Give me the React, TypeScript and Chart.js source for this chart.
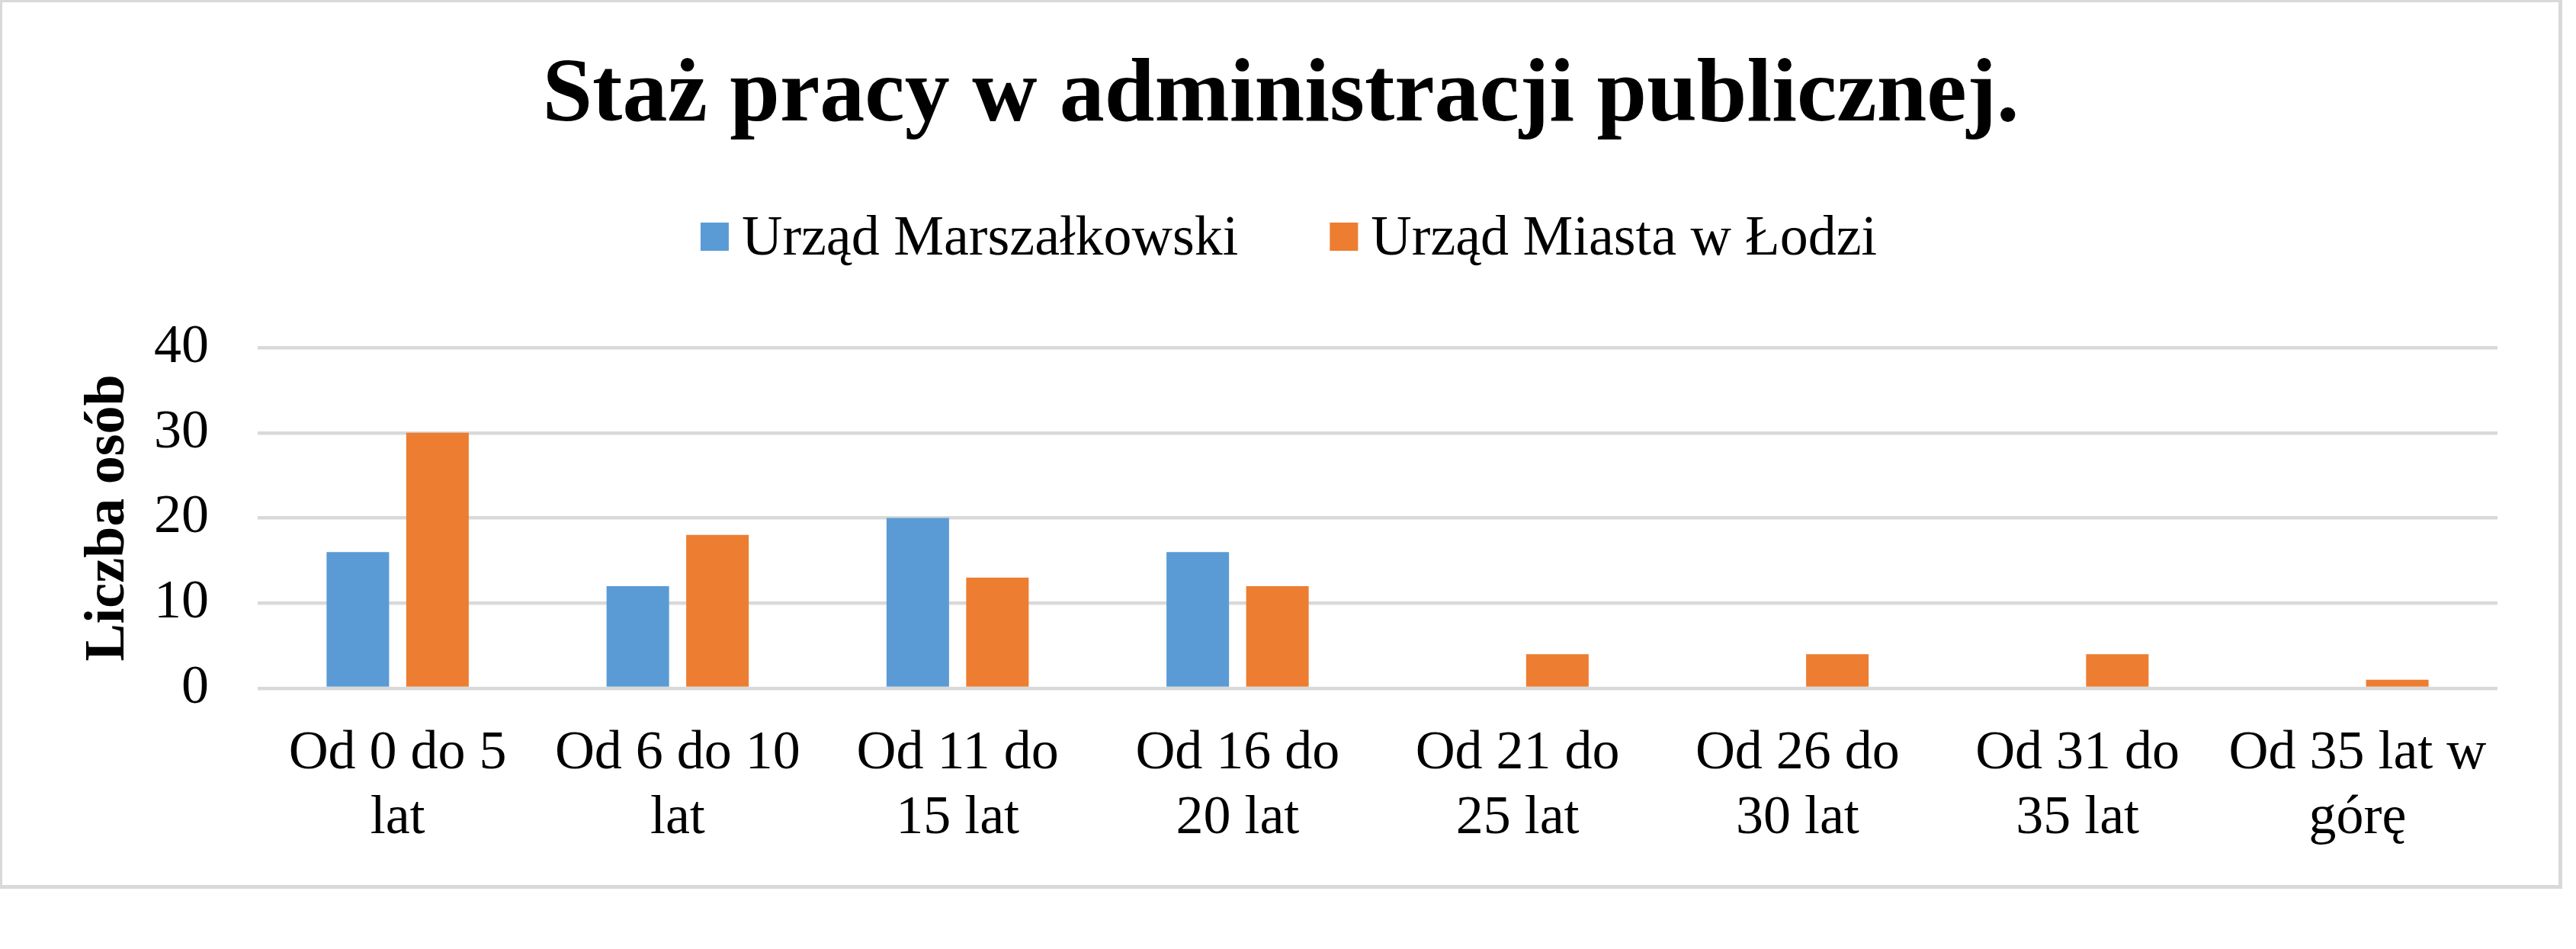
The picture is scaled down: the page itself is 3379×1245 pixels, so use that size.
import React, { useEffect, useRef } from "react";
import { Chart, registerables } from "chart.js";

Chart.register(...registerables);

const FONT = '"Liberation Serif", "Times New Roman", serif';

const TITLE = "Staż pracy w administracji publicznej.";
const Y_TITLE = "Liczba osób";
const categories: string[][] = [
  ["Od 0 do 5", "lat"],
  ["Od 6 do 10", "lat"],
  ["Od 11 do", "15 lat"],
  ["Od 16 do", "20 lat"],
  ["Od 21 do", "25 lat"],
  ["Od 26 do", "30 lat"],
  ["Od 31 do", "35 lat"],
  ["Od 35 lat w", "górę"],
];
const seriesNames = ["Urząd Marszałkowski", "Urząd Miasta w Łodzi"];
const marszalkowski = [16, 12, 20, 16, 0, 0, 0, 0];
const miastaLodzi = [30, 18, 13, 12, 4, 4, 4, 1];
const seriesColors = ["#5B9BD5", "#ED7D31"];
const yTicks = [0, 10, 20, 30, 40];

const CANVAS_W = 3353;
const CANVAS_H = 1158;

const legendPlugin = {
  id: "customLegend",
  afterDraw(chart: any) {
    const ctx = chart.ctx as CanvasRenderingContext2D;
    ctx.save();
    ctx.font = `74px ${FONT}`;
    ctx.textBaseline = "alphabetic";
    ctx.textAlign = "left";
    const box = 37;
    const gap = 17;
    const spacing = 120;
    const items = chart.data.datasets.map((ds: any) => ({
      label: ds.label as string,
      color: ds.backgroundColor as string,
      w: ctx.measureText(ds.label).width,
    }));
    const total =
      items.reduce((s: number, it: any) => s + box + gap + it.w, 0) +
      spacing * (items.length - 1);
    let x = 1687.5 - total / 2;
    const boxTop = 289;
    const baseline = 331;
    for (const it of items) {
      ctx.fillStyle = it.color;
      ctx.fillRect(x, boxTop, box, box);
      ctx.fillStyle = "#000000";
      ctx.fillText(it.label, x + box + gap, baseline);
      x += box + gap + it.w + spacing;
    }
    ctx.restore();
  },
};

export default function App() {
  const canvasRef = useRef<HTMLCanvasElement | null>(null);

  useEffect(() => {
    const canvas = canvasRef.current;
    if (!canvas) return;
    const chart = new Chart(canvas, {
      type: "bar",
      data: {
        labels: categories,
        datasets: [
          {
            label: seriesNames[0],
            data: marszalkowski,
            backgroundColor: seriesColors[0],
            borderWidth: 0,
            categoryPercentage: 0.569,
            barPercentage: 0.785,
          },
          {
            label: seriesNames[1],
            data: miastaLodzi,
            backgroundColor: seriesColors[1],
            borderWidth: 0,
            categoryPercentage: 0.569,
            barPercentage: 0.785,
          },
        ],
      },
      options: {
        animation: false,
        responsive: false,
        devicePixelRatio: 1,
        layout: { padding: { left: 81, right: 80, top: 0, bottom: 0 } },
        plugins: {
          legend: { display: false },
          tooltip: { enabled: false },
          title: {
            display: true,
            text: TITLE,
            color: "#000000",
            font: { family: FONT, size: 118, weight: "bold", lineHeight: 1.2 },
            padding: { top: 54, bottom: 257.4 },
          },
        },
        scales: {
          x: {
            grid: { display: false, drawTicks: false },
            border: { display: false },
            ticks: {
              color: "#000000",
              font: { family: FONT, size: 72, lineHeight: 1.18 },
              padding: 44,
              autoSkip: false,
              maxRotation: 0,
              minRotation: 0,
            },
            afterFit: (s: any) => {
              s.height = 258;
            },
          },
          y: {
            min: 0,
            max: 40,
            afterBuildTicks: (s: any) => {
              s.ticks = yTicks.map((v) => ({ value: v }));
            },
            grid: { color: "#D9D9D9", lineWidth: 4.5, drawTicks: false },
            border: { display: false },
            ticks: {
              color: "#000000",
              font: { family: FONT, size: 72 },
              padding: 64,
            },
            title: {
              display: true,
              text: Y_TITLE,
              color: "#000000",
              font: { family: FONT, size: 74, weight: "bold", lineHeight: 1.2 },
              padding: { top: 14, bottom: 0 },
            },
            afterFit: (s: any) => {
              s.width = 254;
            },
          },
        },
      },
      plugins: [legendPlugin],
    });
    return () => chart.destroy();
  }, []);

  return (
    <div
      style={{
        position: "fixed",
        left: 0,
        top: 0,
        width: 3361,
        height: 1166,
        boxSizing: "border-box",
        borderStyle: "solid",
        borderColor: "#D9D9D9",
        borderWidth: "3px 5px 5px 3px",
        background: "#ffffff",
      }}
    >
      <canvas
        ref={canvasRef}
        width={CANVAS_W}
        height={CANVAS_H}
        style={{ display: "block", width: CANVAS_W, height: CANVAS_H }}
      />
    </div>
  );
}
